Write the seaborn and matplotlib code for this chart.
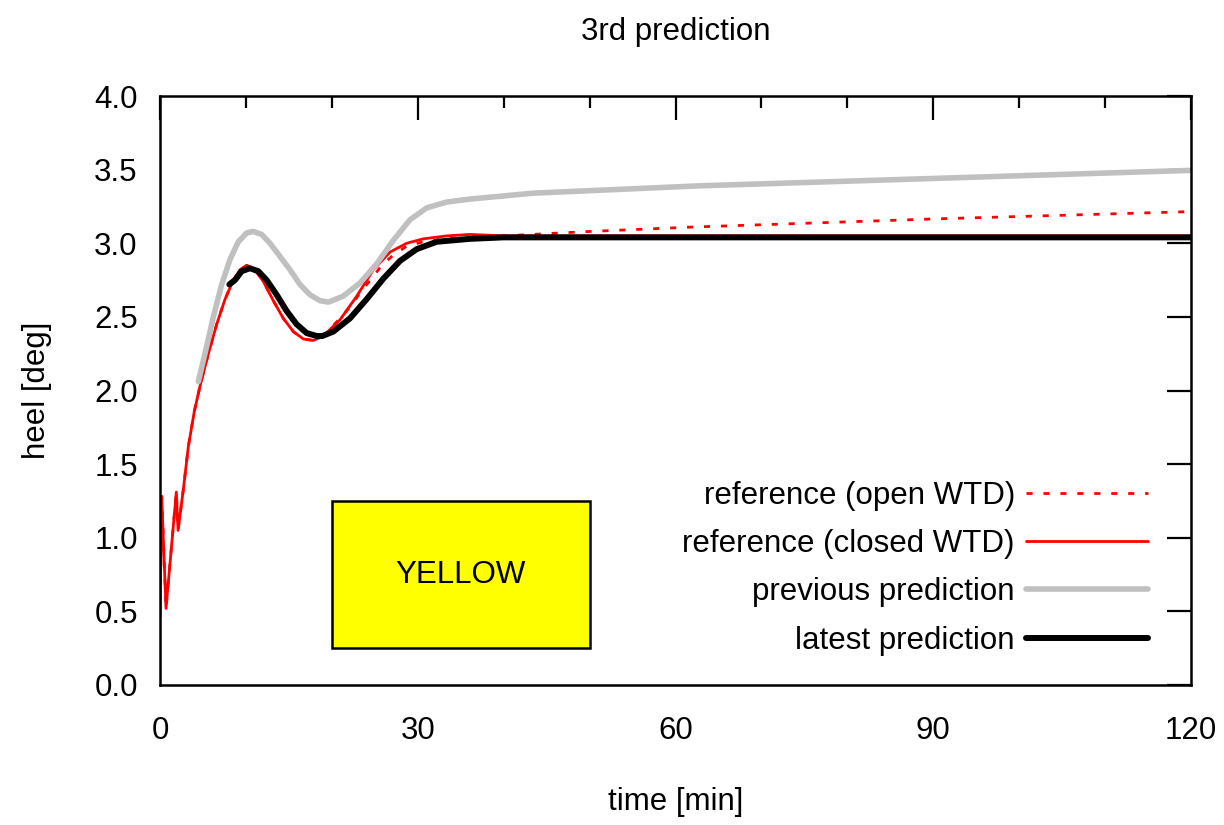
import matplotlib
matplotlib.use("Agg")
import matplotlib.pyplot as plt
import seaborn as sns
import pandas as pd
from matplotlib.ticker import MultipleLocator, FormatStrFormatter
from matplotlib.patches import Rectangle

# ---- data ----
closed_t = [0.0, 0.2, 0.7, 1.9, 2.1, 2.7, 3.3, 4.0, 4.66, 5.63, 6.6, 7.57, 8.54, 9.31,
            10.09, 11.06, 12.03, 13.19, 14.35, 15.52, 16.68, 17.85, 19.0, 20.95,
            22.89, 24.83, 26.77, 28.71, 30.65, 33.37, 36.08, 40.0, 60.0, 90.0, 120.0]
closed_v = [0.46, 1.28, 0.52, 1.31, 1.05, 1.32, 1.62, 1.86, 2.03, 2.25, 2.45, 2.62, 2.75, 2.82,
            2.85, 2.82, 2.74, 2.61, 2.49, 2.40, 2.35, 2.34, 2.37, 2.48,
            2.64, 2.82, 2.94, 3.00, 3.03, 3.05, 3.06, 3.05, 3.05, 3.05, 3.05]

open_t = [0.0, 0.2, 0.7, 1.9, 2.1, 2.7, 3.3, 4.0, 4.66, 5.63, 6.6, 7.57, 8.54, 9.31,
          10.09, 11.06, 12.03, 13.19, 14.35, 15.52, 16.68, 17.85, 19.0, 20.95,
          22.31, 23.47, 24.64, 25.8, 27.16, 28.71, 30.65, 33.37, 36.08, 40.0, 50.0,
          62.0, 90.0, 120.0]
open_v = [0.46, 1.28, 0.52, 1.31, 1.05, 1.32, 1.62, 1.86, 2.03, 2.25, 2.45, 2.62, 2.75, 2.82,
          2.85, 2.82, 2.74, 2.61, 2.49, 2.40, 2.35, 2.34, 2.37, 2.49,
          2.58, 2.68, 2.76, 2.85, 2.92, 2.98, 3.01, 3.03, 3.04, 3.05, 3.08,
          3.11, 3.165, 3.215]

prev_t = [4.46, 5.43, 6.21, 7.18, 8.15, 9.12, 10.09, 10.86, 11.83, 12.8, 13.97, 15.13,
          16.29, 17.46, 18.62, 19.6, 21.3, 23.28, 25.22, 27.16, 29.1, 31.04, 33.37,
          36.08, 43.4, 62.8, 90.0, 120.0]
prev_v = [2.06, 2.30, 2.50, 2.72, 2.89, 3.01, 3.07, 3.08, 3.06, 3.00, 2.91, 2.82,
          2.72, 2.65, 2.61, 2.60, 2.64, 2.73, 2.86, 3.02, 3.16, 3.24, 3.28,
          3.30, 3.34, 3.39, 3.44, 3.495]

latest_t = [8.07, 8.73, 9.5, 10.47, 11.44, 12.41, 13.58, 14.74, 15.9, 17.07, 18.23, 18.9,
            20.17, 22.11, 24.05, 26.0, 27.93, 29.87, 32.2, 36.08, 40.0, 60.0, 90.0, 120.0]
latest_v = [2.72, 2.75, 2.81, 2.83, 2.81, 2.75, 2.65, 2.54, 2.45, 2.39, 2.37, 2.37,
            2.40, 2.49, 2.62, 2.76, 2.88, 2.96, 3.01, 3.03, 3.04, 3.04, 3.04, 3.04]

labels = ["reference (open WTD)", "reference (closed WTD)",
          "previous prediction", "latest prediction"]
x_ticks = [0, 30, 60, 90, 120]
box_x = [20, 50]
box_y = [0.25, 1.25]
box_text = "YELLOW"

# ---- styling ----
sns.set_theme(style="white")
plt.rcParams["font.family"] = ["Liberation Sans", "DejaVu Sans"]
plt.rcParams["axes.linewidth"] = 1.6
plt.rcParams["lines.solid_joinstyle"] = "round"
FS = 22.5

fig = plt.figure(figsize=(12.24, 8.25), dpi=100)
ax = fig.add_axes([160 / 1224, 1 - 685 / 825, (1191 - 160) / 1224, (685 - 96) / 825])

df_open = pd.DataFrame({"t": open_t, "v": open_v})
df_closed = pd.DataFrame({"t": closed_t, "v": closed_v})
df_prev = pd.DataFrame({"t": prev_t, "v": prev_v})
df_latest = pd.DataFrame({"t": latest_t, "v": latest_v})

sns.lineplot(data=df_open, x="t", y="v", ax=ax, color="#ff0000", lw=2.0,
             linestyle=(0, (2.2, 3.9)), label=labels[0], estimator=None, sort=False)
sns.lineplot(data=df_closed, x="t", y="v", ax=ax, color="#ff0000", lw=2.0,
             label=labels[1], estimator=None, sort=False)
sns.lineplot(data=df_prev, x="t", y="v", ax=ax, color="#c0c0c0", lw=4.0,
             label=labels[2], estimator=None, sort=False)
sns.lineplot(data=df_latest, x="t", y="v", ax=ax, color="#000000", lw=4.3,
             label=labels[3], estimator=None, sort=False)

# yellow box
ax.add_patch(Rectangle((box_x[0], box_y[0]), box_x[1] - box_x[0], box_y[1] - box_y[0],
                       facecolor="#ffff00", edgecolor="black", lw=1.8, zorder=3))
ax.text((box_x[0] + box_x[1]) / 2, (box_y[0] + box_y[1]) / 2, box_text,
        ha="center", va="center", fontsize=FS, color="black", zorder=4)

ax.set_xlim(0, 120)
ax.set_ylim(0, 4.0)
ax.set_xticks(x_ticks)
ax.xaxis.set_minor_locator(MultipleLocator(10))
ax.yaxis.set_major_locator(MultipleLocator(0.5))
ax.yaxis.set_major_formatter(FormatStrFormatter("%.1f"))
ax.tick_params(which="both", direction="in", top=True, right=True, colors="black",
               width=1.6)
ax.tick_params(which="major", length=17)
ax.tick_params(which="minor", length=8.5)
ax.tick_params(axis="x", which="major", pad=22, labelsize=FS)
ax.tick_params(axis="y", which="major", pad=16, labelsize=FS)
for s in ax.spines.values():
    s.set_color("black")
    s.set_linewidth(1.8)

ax.set_xlabel("time [min]", fontsize=FS, labelpad=30, color="black")
ax.set_ylabel("heel [deg]", fontsize=FS, labelpad=30, color="black")
ax.set_title("3rd prediction", fontsize=FS, pad=40, color="black")

h, l = ax.get_legend_handles_labels()
leg = ax.legend(h, l, loc="lower right", bbox_to_anchor=(0.958, 0.05),
                frameon=False, markerfirst=False, fontsize=FS, handlelength=3.9,
                handletextpad=0.35, labelspacing=0.58, borderpad=0, borderaxespad=0)
for t in leg.get_texts():
    t.set_color("black")

fig.savefig("out.png", dpi=100)
